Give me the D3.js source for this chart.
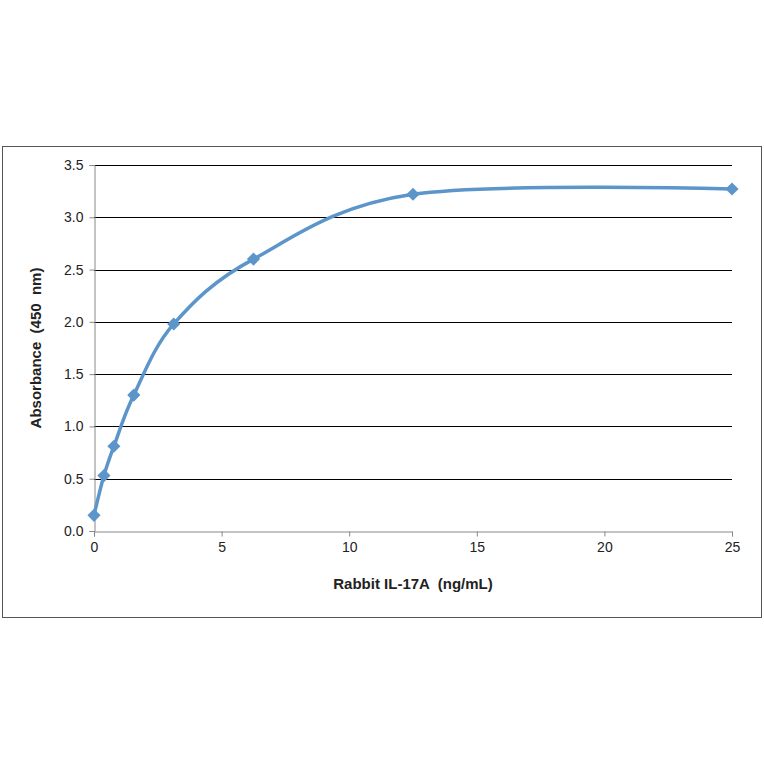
<!DOCTYPE html>
<html><head><meta charset="utf-8">
<script src="https://cdn.jsdelivr.net/npm/d3@7"></script>
<style>body{margin:0;background:#fff}text{font-family:"Liberation Sans",Arial,sans-serif;white-space:pre}</style>
</head><body><svg id="chart" width="764" height="764"></svg>
<script>
// concentration (ng/mL) and absorbance
const conc = [0, 0.39, 0.78, 1.56, 3.125, 6.25, 12.5, 25];
const absorb = [0.15, 0.53, 0.81, 1.30, 1.98, 2.60, 3.22, 3.27];
const xTicks = [0, 5, 10, 15, 20, 25];
const yTicks = [0, 0.5, 1, 1.5, 2, 2.5, 3, 3.5];
const blue = "#5c95c9";

let svg = d3.select("#chart");
//outer frame
svg.append("rect").attr("x", 2.5).attr("y", 146.5).attr("width", 759).attr("height", 471)
    .attr("fill", "none").attr("stroke", "#555").attr("stroke-width", 1);

let xScale = d3.scaleLinear().domain([0, 25]).range([94, 732]);
let yScale = d3.scaleLinear().domain([0, 3.5]).range([531, 165]);

//gridlines
svg.append("g").selectAll("line").data(yTicks.slice(1)).enter().append("line")
    .attr("x1", 94).attr("x2", 732)
    .attr("y1", d => Math.round(yScale(d)) + 0.5).attr("y2", d => Math.round(yScale(d)) + 0.5)
    .attr("stroke", "#000");

//axes
let xAxis = svg.append("g").attr("transform", "translate(0,531.5)")
    .call(d3.axisBottom(xScale).tickValues(xTicks).tickSize(5).tickPadding(6));
let yAxis = svg.append("g").attr("transform", "translate(94.5,0)")
    .call(d3.axisLeft(yScale).tickValues(yTicks).tickFormat(d3.format(".1f")).tickSize(5).tickPadding(6));
[xAxis, yAxis].forEach(a => {
    a.selectAll("path,line").attr("stroke", "#888");
    a.selectAll("text").attr("font-size", "14px").attr("fill", "#222");
});

//line
let line = d3.line().x((d, i) => xScale(conc[i])).y(d => yScale(d)).curve(d3.curveCardinal.tension(0));
svg.append("path").datum(absorb).attr("d", line)
    .attr("fill", "none").attr("stroke", blue).attr("stroke-width", 3.5);

//diamond markers
svg.append("g").selectAll("path").data(absorb).enter().append("path")
    .attr("d", d3.symbol().type(d3.symbolDiamond2).size(110))
    .attr("transform", (d, i) => `translate(${xScale(conc[i])},${yScale(d)})`)
    .attr("fill", blue);

//titles
svg.append("text").attr("x", 413).attr("y", 589).attr("text-anchor", "middle")
    .attr("xml:space", "preserve")
    .attr("font-size", "15px").attr("font-weight", "bold").attr("fill", "#222")
    .text("Rabbit IL-17A  (ng/mL)");
svg.append("text").attr("transform", "translate(41,348) rotate(-90)").attr("text-anchor", "middle")
    .attr("xml:space", "preserve")
    .attr("font-size", "15px").attr("font-weight", "bold").attr("fill", "#222")
    .text("Absorbance  (450  nm)");
</script></body></html>
